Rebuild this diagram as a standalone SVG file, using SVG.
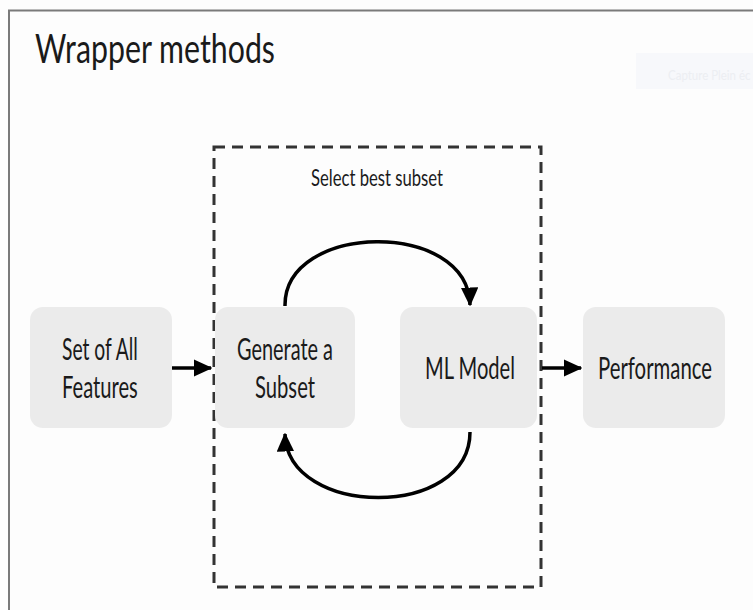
<svg xmlns="http://www.w3.org/2000/svg" width="753" height="610" viewBox="0 0 753 610">
<defs>
<style>
.node rect{fill:#ebebeb;}
.lbl{font-family:Lato,"Liberation Sans",sans-serif;fill:#1a1a1a;}
.nt{font-size:30px;}
.conn{stroke:#000;stroke-width:3.5;fill:none;}
</style>
<marker id="ah" markerWidth="5.4" markerHeight="5" refX="5" refY="2.5" orient="auto" markerUnits="strokeWidth" viewBox="0 0 5.4 5">
<path d="M0,0 L5.4,2.5 L0,5 Z" fill="#000"/>
</marker>
</defs>
<rect x="0" y="0" width="753" height="610" fill="#fdfdfd"/>
<path d="M9,610 V10.5 H753" fill="none" stroke="#7a7a7a" stroke-width="2"/>
<rect x="636" y="53" width="117" height="36" fill="#f7f8fb"/>
<text transform="translate(668,80) scale(0.75,1)" x="0" y="0" font-family="Lato,'Liberation Sans',sans-serif" font-size="14" fill="#eceef2" textLength="110" lengthAdjust="spacingAndGlyphs">Capture Plein éc</text>
<text class="lbl" transform="translate(35,63) scale(0.8,1)" font-size="41" textLength="300" lengthAdjust="spacingAndGlyphs">Wrapper methods</text>
<g id="subset-box">
<rect x="214" y="147" width="327" height="440" fill="none" stroke="#333" stroke-width="3" stroke-dasharray="11 7"/>
<text class="lbl" transform="translate(311,186) scale(0.75,1)" font-size="23" fill="#333" textLength="176" lengthAdjust="spacingAndGlyphs">Select best subset</text>
</g>
<g id="n-all" class="node">
<rect x="30" y="307" width="142" height="121" rx="13"/>
<text class="lbl nt" transform="translate(62,360) scale(0.75,1)" textLength="101" lengthAdjust="spacingAndGlyphs">Set of All</text>
<text class="lbl nt" transform="translate(62,398) scale(0.75,1)" textLength="101" lengthAdjust="spacingAndGlyphs">Features</text>
</g>
<g id="n-gen" class="node">
<rect x="215" y="307" width="140" height="121" rx="13"/>
<text class="lbl nt" transform="translate(237,360) scale(0.75,1)" textLength="128" lengthAdjust="spacingAndGlyphs">Generate a</text>
<text class="lbl nt" transform="translate(255,398) scale(0.75,1)" textLength="80" lengthAdjust="spacingAndGlyphs">Subset</text>
</g>
<g id="n-ml" class="node">
<rect x="400" y="307" width="137" height="121" rx="13"/>
<text class="lbl nt" transform="translate(425,379) scale(0.75,1)" textLength="120" lengthAdjust="spacingAndGlyphs">ML Model</text>
</g>
<g id="n-perf" class="node">
<rect x="583" y="307" width="142" height="121" rx="13"/>
<text class="lbl nt" transform="translate(598,379) scale(0.75,1)" textLength="152" lengthAdjust="spacingAndGlyphs">Performance</text>
</g>
<g id="connectors">
<path class="conn" d="M172,368 H211" marker-end="url(#ah)"/>
<path class="conn" d="M542,368 H581" marker-end="url(#ah)"/>
<path class="conn" d="M285,306 C284,222 468,219 470,305" stroke-width="3" marker-end="url(#ah)"/>
<path class="conn" d="M470,432 C470,520 287,518 285,434" stroke-width="3" marker-end="url(#ah)"/>
</g>
</svg>
